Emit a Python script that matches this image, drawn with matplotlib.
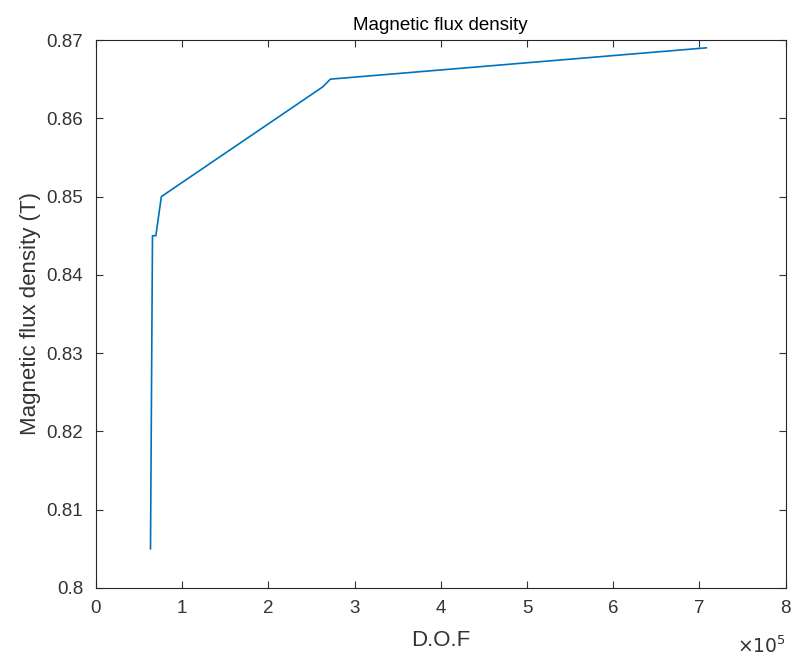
import matplotlib.pyplot as plt

# valores
dof = [0.634e5, 0.657e5, 0.696e5, 0.76e5, 2.63e5, 2.72e5, 7.08e5]
flux = [0.805, 0.845, 0.845, 0.850, 0.864, 0.865, 0.869]

plt.rcParams['font.family'] = ['Liberation Sans', 'DejaVu Sans']
gris = '#262626'

fig = plt.figure(figsize=(7.92, 6.58), dpi=100)
ax = fig.add_axes([0.121, 0.1064, 0.871, 0.8328])
ax.plot([x / 1e5 for x in dof], flux, color='#0072BD', linewidth=1.2)

ax.set_xlim(0, 8)
ax.set_ylim(0.8, 0.87)
ax.set_xticks(range(0, 9))
ax.set_yticks([0.8, 0.81, 0.82, 0.83, 0.84, 0.85, 0.86, 0.87])
ax.set_yticklabels(['0.8', '0.81', '0.82', '0.83', '0.84', '0.85', '0.86', '0.87'])
ax.tick_params(direction='in', top=True, right=True, labelsize=13.5,
               colors='#333333', length=5, width=0.8)
ax.tick_params(axis='x', pad=9)
ax.tick_params(axis='y', pad=9)
for s in ax.spines.values():
    s.set_color(gris)
    s.set_linewidth(0.8)

ax.set_xlabel('D.O.F', fontsize=16, color='#333333', labelpad=9)
ax.set_ylabel('Magnetic flux density (T)', fontsize=16, color='#333333', labelpad=4)
ax.set_title('Magnetic flux density', fontsize=13.5, color='black', pad=7)
ax.text(1.0, -0.118, r'$\times10^{5}$', transform=ax.transAxes, ha='right',
        va='baseline', fontsize=13.5, color='#333333', math_fontfamily='dejavusans')

fig.savefig('out.png', dpi=100)
